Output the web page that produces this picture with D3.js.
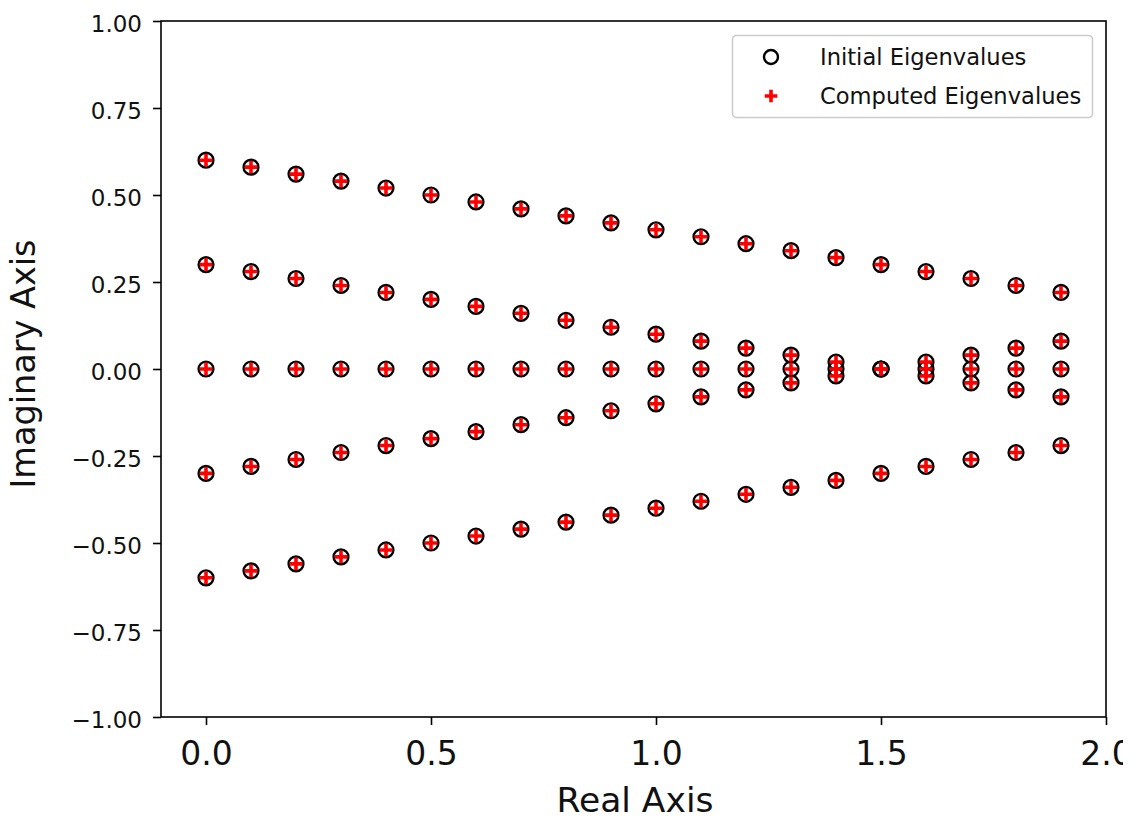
<!DOCTYPE html>
<html>
<head>
<meta charset="utf-8">
<script src="https://cdn.jsdelivr.net/npm/d3@7"></script>
<style>
  html, body { margin: 0; padding: 0; background: #fff; }
  svg { display: block; }
  text { font-family: "DejaVu Sans", sans-serif; fill: #111; }
</style>
</head>
<body>
<svg id="chart" width="1136" height="819"></svg>
<script>
// Real parts of the eigenvalues (shared by every branch)
const realParts = [0.0, 0.1, 0.2, 0.3, 0.4, 0.5, 0.6, 0.7, 0.8, 0.9,
                   1.0, 1.1, 1.2, 1.3, 1.4, 1.5, 1.6, 1.7, 1.8, 1.9];

// Imaginary parts, one list per branch
const imagOuterUpper = [0.60, 0.58, 0.56, 0.54, 0.52, 0.50, 0.48, 0.46, 0.44, 0.42,
                        0.40, 0.38, 0.36, 0.34, 0.32, 0.30, 0.28, 0.26, 0.24, 0.22];
const imagInnerUpper = [0.30, 0.28, 0.26, 0.24, 0.22, 0.20, 0.18, 0.16, 0.14, 0.12,
                        0.10, 0.08, 0.06, 0.04, 0.02, 0.00, 0.02, 0.04, 0.06, 0.08];
const imagReal       = [0.00, 0.00, 0.00, 0.00, 0.00, 0.00, 0.00, 0.00, 0.00, 0.00,
                        0.00, 0.00, 0.00, 0.00, 0.00, 0.00, 0.00, 0.00, 0.00, 0.00];
const imagInnerLower = [-0.30, -0.28, -0.26, -0.24, -0.22, -0.20, -0.18, -0.16, -0.14, -0.12,
                        -0.10, -0.08, -0.06, -0.04, -0.02, -0.00, -0.02, -0.04, -0.06, -0.08];
const imagOuterLower = [-0.60, -0.58, -0.56, -0.54, -0.52, -0.50, -0.48, -0.46, -0.44, -0.42,
                        -0.40, -0.38, -0.36, -0.34, -0.32, -0.30, -0.28, -0.26, -0.24, -0.22];

// Axis ticks
const xTicks = [0.0, 0.5, 1.0, 1.5, 2.0];
const yTicks = [-1.00, -0.75, -0.50, -0.25, 0.00, 0.25, 0.50, 0.75, 1.00];

const legendLabels = ["Initial Eigenvalues", "Computed Eigenvalues"];

const branches = [imagOuterUpper, imagInnerUpper, imagReal, imagInnerLower, imagOuterLower];
const initialEigs = [];
branches.forEach(b => b.forEach((im, i) => initialEigs.push({ re: realParts[i], im })));
// The computed eigenvalues coincide with the initial ones
const computedEigs = initialEigs.map(d => ({ re: d.re, im: d.im }));

const W = 1136, H = 819;
const margin = { left: 161, right: W - 1106, top: 21, bottom: H - 717 };

const svg = d3.select("#chart");
// The figure canvas ends a little before the window edge
svg.append("defs").append("clipPath").attr("id", "canvas")
  .append("rect").attr("x", 0).attr("y", 0).attr("width", 1123).attr("height", H);
const root = svg.append("g").attr("clip-path", "url(#canvas)");

const x = d3.scaleLinear().domain([-0.1, 2.0]).range([margin.left, W - margin.right]);
const y = d3.scaleLinear().domain([-1, 1]).range([H - margin.bottom, margin.top]);

const fmtY = v => (v < 0 ? "\u2212" : "") + Math.abs(v).toFixed(2);
const fmtX = v => v.toFixed(1);

// Markers: open circles first, red plus signs drawn over them
const plot = root.append("g");
plot.selectAll("circle.init").data(initialEigs).join("circle")
  .attr("class", "init")
  .attr("cx", d => x(d.re)).attr("cy", d => y(d.im))
  .attr("r", 7.4)
  .attr("fill", "none").attr("stroke", "#000").attr("stroke-width", 2.4);

const plusPath = s => `M${-s},0H${s}M0,${-s}V${s}`;
plot.selectAll("path.comp").data(computedEigs).join("path")
  .attr("class", "comp")
  .attr("transform", d => `translate(${x(d.re)},${y(d.im)})`)
  .attr("d", plusPath(6.4))
  .attr("stroke", "#ff0000").attr("stroke-width", 3.6).attr("fill", "none");

// Axes
const xAxis = d3.axisBottom(x).tickValues(xTicks).tickFormat(fmtX).tickSize(8);
const yAxis = d3.axisLeft(y).tickValues(yTicks).tickFormat(fmtY).tickSize(8).tickPadding(11);

const gx = root.append("g").attr("transform", `translate(0,${H - margin.bottom})`).call(xAxis);
gx.select(".domain").remove();
gx.selectAll(".tick line").attr("stroke", "#000").attr("stroke-width", 1.6);
gx.selectAll(".tick text").style("font-size", "33px").attr("fill", "#111")
  .attr("y", 48).attr("dy", 0);

const gy = root.append("g").attr("transform", `translate(${margin.left},0)`).call(yAxis);
gy.select(".domain").remove();
gy.selectAll(".tick line").attr("stroke", "#000").attr("stroke-width", 1.6);
gy.selectAll(".tick text").style("font-size", "23px").attr("fill", "#111").attr("dy", "0.45em");

// Frame
root.append("rect")
  .attr("x", margin.left).attr("y", margin.top)
  .attr("width", W - margin.right - margin.left)
  .attr("height", H - margin.bottom - margin.top)
  .attr("fill", "none").attr("stroke", "#000").attr("stroke-width", 1.6);

// Axis titles
root.append("text")
  .attr("x", 635).attr("y", 812)
  .attr("text-anchor", "middle").style("font-size", "34.5px")
  .text("Real Axis");
root.append("text")
  .attr("transform", `translate(35,364) rotate(-90)`)
  .attr("text-anchor", "middle").style("font-size", "33.5px")
  .text("Imaginary Axis");

// Legend
const lg = root.append("g");
lg.append("rect")
  .attr("x", 732.5).attr("y", 35.5).attr("width", 360).attr("height", 82)
  .attr("rx", 4).attr("fill", "#fff").attr("fill-opacity", 0.8)
  .attr("stroke", "#cccccc").attr("stroke-width", 1.6);
lg.append("circle").attr("cx", 771).attr("cy", 57).attr("r", 7)
  .attr("fill", "none").attr("stroke", "#000").attr("stroke-width", 2.4);
lg.append("path").attr("transform", "translate(771,96)").attr("d", plusPath(6.3))
  .attr("stroke", "#ff0000").attr("stroke-width", 3.6);
lg.selectAll("text.lab").data(legendLabels).join("text")
  .attr("class", "lab")
  .attr("x", 820).attr("y", (d, i) => 65 + i * 39)
  .style("font-size", "22.6px")
  .text(d => d);
</script>
</body>
</html>
